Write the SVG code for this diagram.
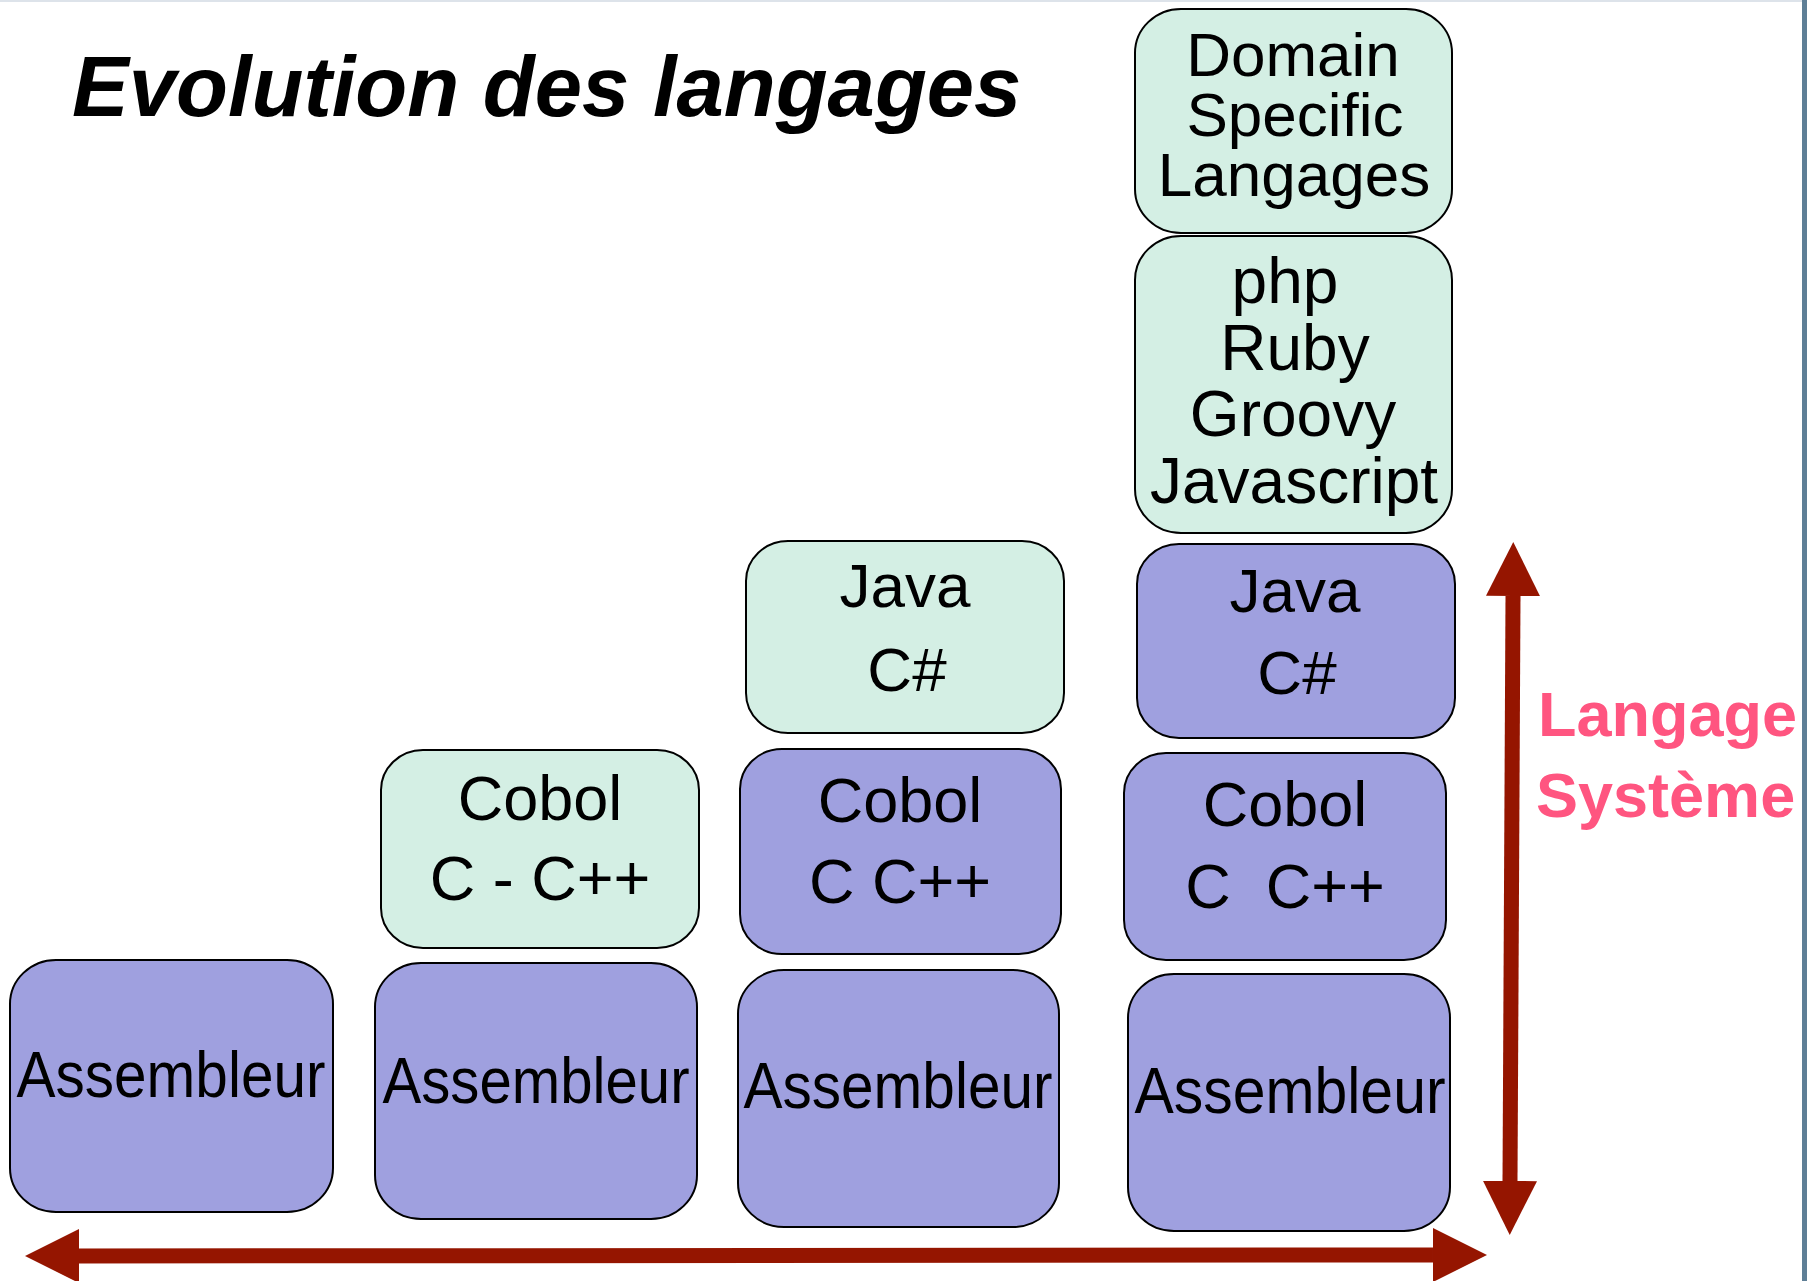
<svg xmlns="http://www.w3.org/2000/svg" width="1807" height="1281" viewBox="0 0 1807 1281">
<style>
.box{stroke:#000;stroke-width:2}
.g{fill:#D4EFE4}
.p{fill:#9FA0DF}
.t{font-family:"Liberation Sans",Arial,sans-serif;fill:#000;text-anchor:middle}
.asm{font-size:64px}
.arrow{stroke:#951500;stroke-width:15;fill:none}
.lbl{font-family:"Liberation Sans",Arial,sans-serif;font-weight:bold;fill:#FF5580}
</style>
<defs>
<marker id="head" markerUnits="userSpaceOnUse" viewBox="0 0 54 54" markerWidth="54" markerHeight="54" refX="0" refY="27" orient="auto-start-reverse">
<path d="M0,0 L54,27 L0,54 z" fill="#951500"/>
</marker>
</defs>
<rect x="0" y="0" width="1807" height="1281" fill="#fff"/>
<rect x="0" y="0" width="1807" height="2" fill="#dde3ea"/>
<rect x="1802" y="0" width="5" height="1281" fill="#5E7F96"/>

<text x="72" y="116" font-family="'Liberation Sans',Arial,sans-serif" font-weight="bold" font-style="italic" font-size="85" fill="#000">Evolution des langages</text>

<g id="c1-asm"><rect class="box p" x="10" y="960" width="323" height="252" rx="46" ry="44"/><text class="t asm" x="171" y="1097" textLength="309" lengthAdjust="spacingAndGlyphs">Assembleur</text></g>

<g id="c2-asm"><rect class="box p" x="375" y="963" width="322" height="256" rx="46" ry="44"/><text class="t asm" x="536" y="1103" textLength="307" lengthAdjust="spacingAndGlyphs">Assembleur</text></g>
<g id="c2-cobol"><rect class="box g" x="381" y="750" width="318" height="198" rx="42" ry="40"/><text class="t" x="540" y="820" font-size="63">Cobol</text><text class="t" x="540" y="900" font-size="63">C - C++</text></g>

<g id="c3-asm"><rect class="box p" x="738" y="970" width="321" height="257" rx="46" ry="44"/><text class="t asm" x="898" y="1108" textLength="309" lengthAdjust="spacingAndGlyphs">Assembleur</text></g>
<g id="c3-cobol"><rect class="box p" x="740" y="749" width="321" height="205" rx="42" ry="40"/><text class="t" x="900" y="822" font-size="63">Cobol</text><text class="t" x="900" y="903" font-size="63">C C++</text></g>
<g id="c3-java"><rect class="box g" x="746" y="541" width="318" height="192" rx="42" ry="40"/><text class="t" x="905" y="607" font-size="62">Java</text><text class="t" x="907" y="691" font-size="62">C#</text></g>

<g id="c4-asm"><rect class="box p" x="1128" y="974" width="322" height="257" rx="46" ry="44"/><text class="t asm" x="1290" y="1113" textLength="311" lengthAdjust="spacingAndGlyphs">Assembleur</text></g>
<g id="c4-cobol"><rect class="box p" x="1124" y="753" width="322" height="207" rx="42" ry="40"/><text class="t" x="1285" y="826" font-size="63">Cobol</text><text class="t" x="1285" y="908" font-size="63" xml:space="preserve">C  C++</text></g>
<g id="c4-java"><rect class="box p" x="1137" y="544" width="318" height="194" rx="42" ry="40"/><text class="t" x="1295" y="612" font-size="62">Java</text><text class="t" x="1297" y="694" font-size="62">C#</text></g>
<g id="c4-script"><rect class="box g" x="1135" y="236" width="317" height="297" rx="46" ry="44"/><text class="t" x="1285" y="303" font-size="64">php</text><text class="t" x="1295" y="370" font-size="64">Ruby</text><text class="t" x="1293" y="436" font-size="64">Groovy</text><text class="t" x="1294" y="503" font-size="64">Javascript</text></g>
<g id="c4-dsl"><rect class="box g" x="1135" y="9" width="317" height="224" rx="46" ry="44"/><text class="t" x="1293" y="76" font-size="62">Domain</text><text class="t" x="1295" y="136" font-size="62">Specific</text><text class="t" x="1294" y="196" font-size="62">Langages</text></g>

<g id="connectors">
<line class="arrow" x1="79" y1="1256" x2="1433" y2="1255" marker-start="url(#head)" marker-end="url(#head)"/>
<line class="arrow" x1="1513" y1="596" x2="1510" y2="1181" marker-start="url(#head)" marker-end="url(#head)"/>
</g>

<g id="label"><text class="lbl" x="1538" y="736" font-size="63">Langage</text><text class="lbl" x="1536" y="817" font-size="63">Système</text></g>
</svg>
